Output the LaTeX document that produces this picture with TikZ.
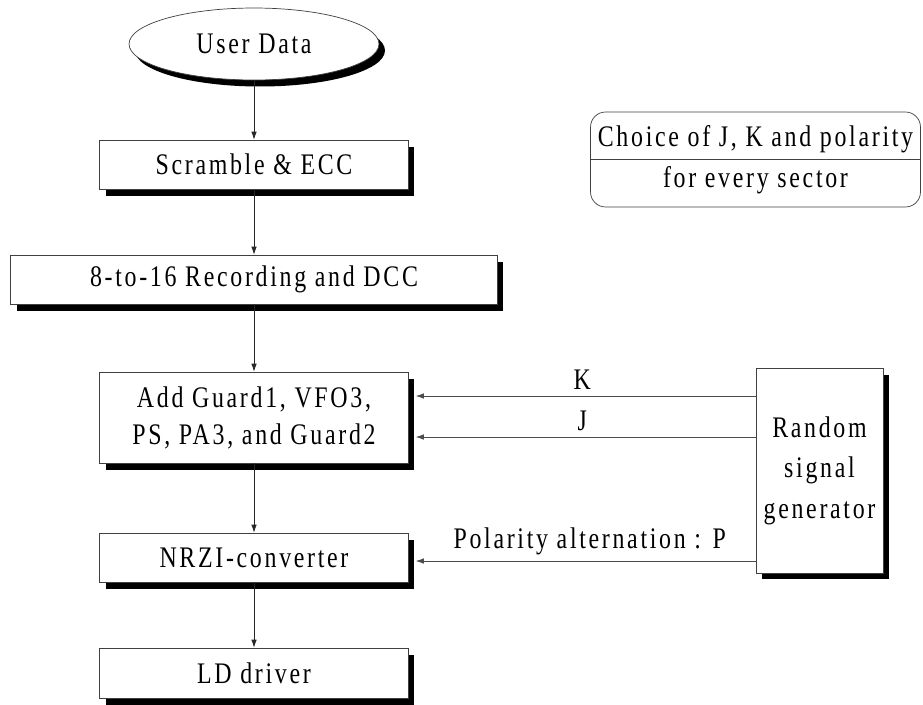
\documentclass[tikz,border=0pt]{standalone}
\usepackage{fontspec}
\setmainfont{Liberation Serif}[FakeStretch=0.8,LetterSpace=9]
\usetikzlibrary{
  shapes.geometric,%
  shadows,%
  arrows.meta,
  positioning
}
\tikzset{>={Latex[length=1.6mm,width=1.1mm]}}
\tikzset{font=\fontsize{17}{21}\selectfont}
\tikzset{
  shade/.style={drop shadow={shadow xshift=0.12cm, shadow yshift=-0.13cm,
      fill=black, opacity=1}},
  box/.style={rectangle, draw=black!75, fill=white, thin, inner sep=0pt,
    minimum width=6.18cm, minimum height=0.98cm, align=center, shade},
  flow/.style={->, thin, draw=black!85},
  sig/.style={->, thin, draw=black!70, shorten >=0.14cm}
}

\begin{document}
\begin{tikzpicture}[x=0.02cm, y=-0.02cm]
  \useasboundingbox (0,0) rectangle (923,704);
  % main chain
  \node[ellipse, draw=black!75, fill=white, thin, minimum width=5cm,
    minimum height=1.44cm, shade] (userdata) at (254,44) {User Data};
  \node[box] (scramble) at (254,164.5) {Scramble \& ECC};
  \node[box, minimum width=9.74cm] (recording) at (254,279.5) {8-to-16 Recording and DCC};
  \node[box, minimum height=1.82cm] (addguard) at (254,417.5) {Add Guard1, VFO3,\\PS, PA3, and Guard2};
  \node[box] (nrzi) at (254,557.5) {NRZI-converter};
  \node[box, minimum height=1cm] (lddriver) at (254,673) {LD driver};
  \draw[flow] (userdata) -- (scramble);
  \draw[flow] (scramble) -- (recording);
  \draw[flow] (recording) -- (addguard);
  \draw[flow] (addguard) -- (nrzi);
  \draw[flow] (nrzi) -- (lddriver);
  % generator and its signals
  \node[box, minimum width=2.54cm, minimum height=4.1cm, font=\fontsize{17}{23}\selectfont]
    (generator) at (819.5,470.5) {Random\\signal\\generator};
  \draw[sig] (generator.west |- 0,396) -- node[above]{K} (addguard.east |- 0,396);
  \draw[sig] (generator.west |- 0,437) -- node[above]{J} (addguard.east |- 0,437);
  \draw[sig] (generator.west |- 0,561) -- node[above, xshift=0.15cm]{Polarity alternation : P} (nrzi.east |- 0,561);
  % choice note
  \node[rectangle, rounded corners=0.3cm, draw=black!75, thin, minimum width=6.6cm,
    minimum height=1.9cm, align=center, font=\fontsize{17}{23.5}\selectfont]
    (choice) at (755.5,159.5) {Choice of J, K and polarity\\for every sector};
  \draw[black!75, thin] (choice.west) -- (choice.east);
\end{tikzpicture}
\end{document}
